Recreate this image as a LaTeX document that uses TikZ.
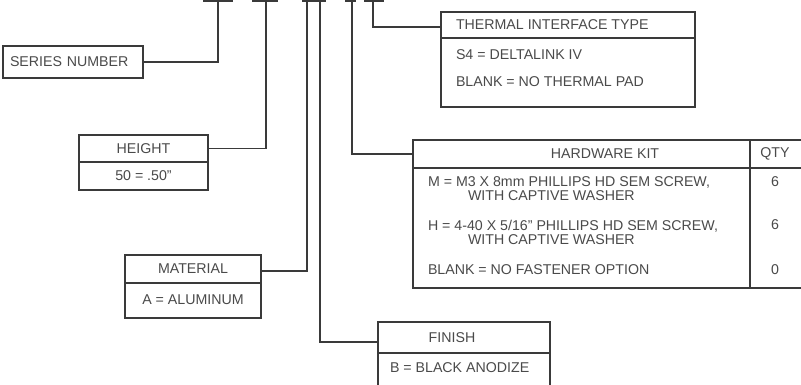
\documentclass[tikz,border=0pt]{standalone}
\usepackage{fontspec}
\setmainfont{Liberation Sans}
\definecolor{linec}{HTML}{3A3A3A}
\definecolor{txtc}{HTML}{4A4A4A}
\newcommand\dgfont{\fontsize{14.2}{14}\selectfont}
\begin{document}
\begin{tikzpicture}[x=1pt,y=-1pt,
  box/.style={draw=linec, line width=1.4pt, inner sep=0pt, outer sep=0pt, text=txtc, font=\dgfont},
  txt/.style={inner sep=0pt, outer sep=0pt, text=txtc, font=\dgfont},
  conn/.style={draw=linec, line width=1.4pt},
  bar/.style={draw=linec, line width=1.8pt}]
\useasboundingbox[fill=white] (0,0) rectangle (801,385);

% part number underline bars (cropped at the top)
\draw[bar] (203,1) -- (233,1);
\draw[bar] (252,1) -- (278,1);
\draw[bar] (302,1) -- (326,1);
\draw[bar] (345,1) -- (356,1);
\draw[bar] (364,1) -- (384,1);
\coordinate (t1) at (218,1);
\coordinate (t2) at (266,1);
\coordinate (t3) at (307,1);
\coordinate (t4) at (320,1);
\coordinate (t5) at (352,1);
\coordinate (t6) at (373,1);

% series number
\node[box, minimum width=140pt, minimum height=32pt, text width=126pt, align=left] (series) at (73,62) {SERIES NUMBER};

% height
\node[box, minimum width=129pt, minimum height=27pt] (heightH) at (143.5,148.5) {HEIGHT};
\node[box, minimum width=129pt, minimum height=28pt] (heightB) at (143.5,176) {50 = .50"};

% material
\node[box, minimum width=136pt, minimum height=28pt] (materialH) at (193,269) {MATERIAL};
\node[box, minimum width=136pt, minimum height=35pt] (materialB) at (193,300.5) {};
\node[txt] (materialT) at (193,300) {A = ALUMINUM};

% finish
\node[box, minimum width=172pt, minimum height=31pt] (finishH) at (464,337.5) {};
\node[box, minimum width=172pt, minimum height=42pt] (finishB) at (464,374) {};
\node[txt] (finishT) at (452,338) {FINISH};
\node[txt, anchor=west] (finishI) at (390,368) {B = BLACK ANODIZE};

% hardware kit
\node[box, minimum width=337pt, minimum height=28pt] (hwH) at (581.5,154) {};
\node[box, minimum width=53pt, minimum height=28pt] (qtyH) at (776.5,154) {};
\node[box, minimum width=337pt, minimum height=120pt] (hwB) at (581.5,228) {};
\node[box, minimum width=53pt, minimum height=120pt] (qtyB) at (776.5,228) {};
\node[txt] (hwT) at (605,154) {HARDWARE KIT};
\node[txt] (qtyT) at (775,154) {QTY};
\node[txt, anchor=north west, align=left] (hwM) at (428,177) {M = M3 X 8mm PHILLIPS HD SEM SCREW,\\\hspace*{40pt}WITH CAPTIVE WASHER};
\node[txt, anchor=north west, align=left] (hwHh) at (428,220) {H = 4-40 X 5/16" PHILLIPS HD SEM SCREW,\\\hspace*{40pt}WITH CAPTIVE WASHER};
\node[txt, anchor=west] (hwN) at (428,270) {BLANK = NO FASTENER OPTION};
\node[txt] (q1) at (775,182) {6};
\node[txt] (q2) at (775,225) {6};
\node[txt] (q3) at (775,270) {0};

% thermal interface
\node[box, minimum width=254pt, minimum height=26pt] (thermH) at (568,25) {};
\node[box, minimum width=254pt, minimum height=69pt] (thermB) at (568,72.5) {};
\node[txt, anchor=west] (thermT) at (456,25) {THERMAL INTERFACE TYPE};
\node[txt, anchor=west] (thermS) at (456,55) {S4 = DELTALINK IV};
\node[txt, anchor=west] (thermN) at (456,82) {BLANK = NO THERMAL PAD};

% connectors
\draw[conn] (series.east) -| (t1);
\draw[conn] (heightH.east) -| (t2);
\draw[conn] ([yshift=-2pt]materialH.east) -| (t3);
\draw[conn] ([yshift=-4.5pt]finishH.west) -| (t4);
\draw[conn] (hwH.west) -| (t5);
\draw[conn] ([yshift=-2pt]thermH.west) -| (t6);
\end{tikzpicture}
\end{document}
